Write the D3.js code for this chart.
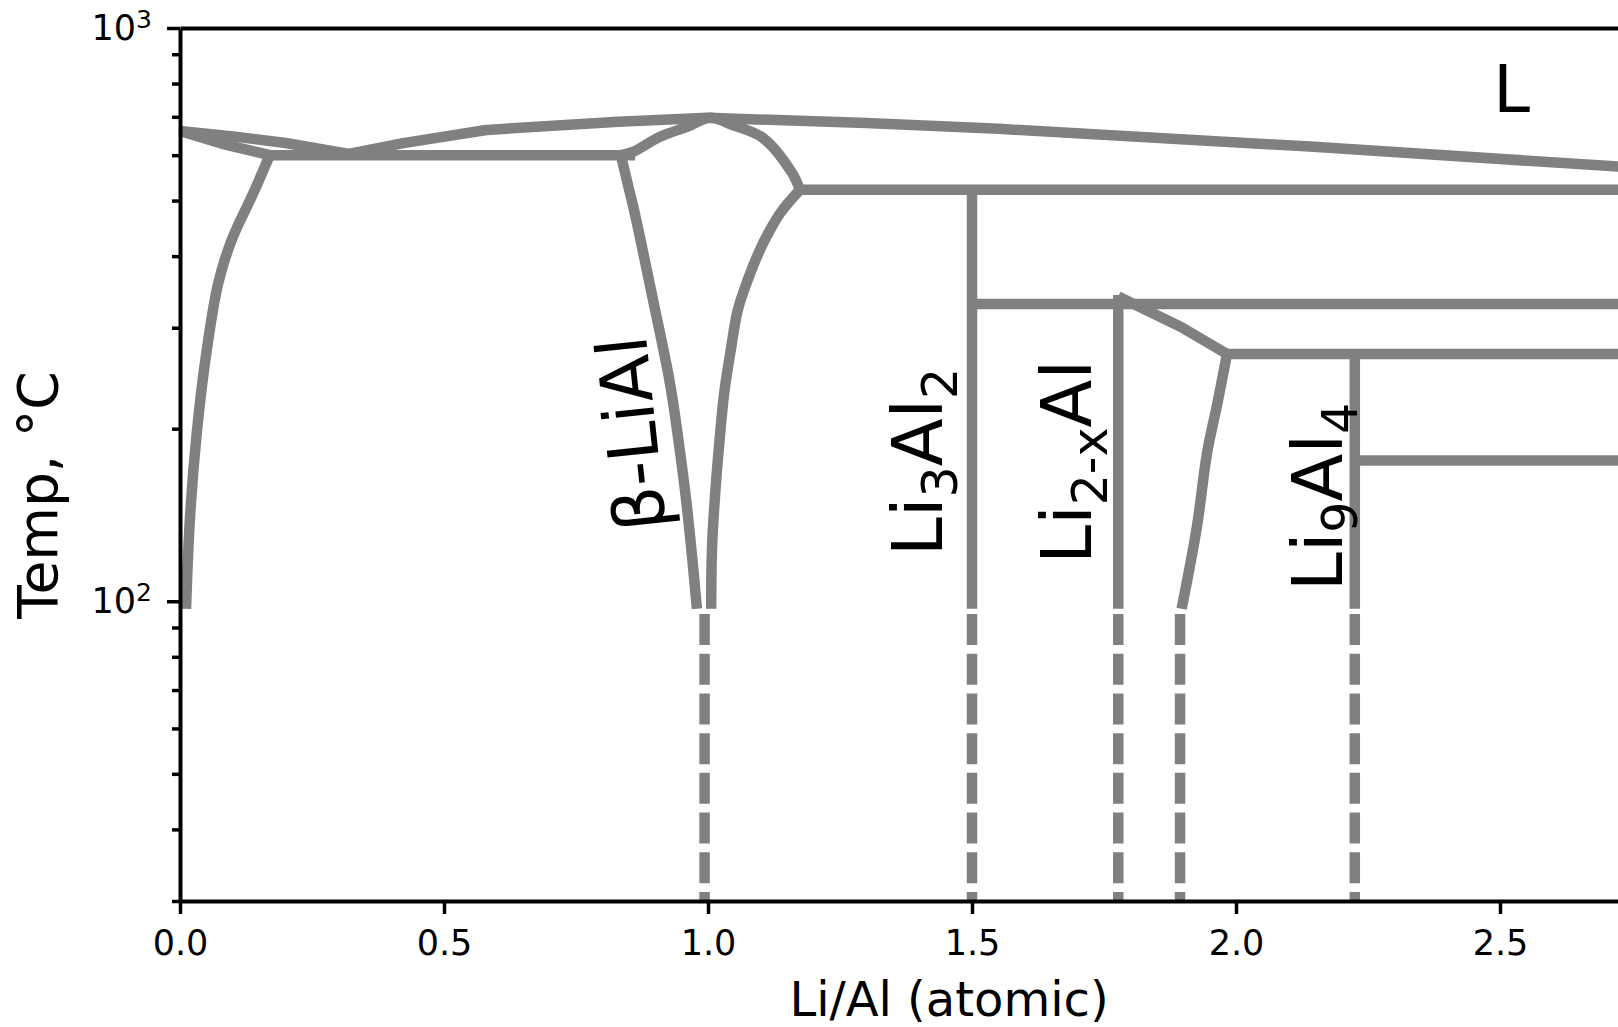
<!DOCTYPE html>
<html>
<head>
<meta charset="utf-8">
<script src="https://cdn.jsdelivr.net/npm/d3@7"></script>
<style>
  body { margin: 0; background: #fff; }
  svg { display: block; }
</style>
</head>
<body>
<svg id="chart" width="1618" height="1027"></svg>
<script>
// Li-Al phase diagram: Li/Al (atomic) vs temperature on a log axis
const svg = d3.select("#chart");
const font = "DejaVu Sans, Verdana, sans-serif";

const xMax = 2.75;
const xTicks = [0, 0.5, 1.0, 1.5, 2.0, 2.5];
const yMajorTicks = [100, 1000];
const yMinorTicks = [30, 40, 50, 60, 70, 80, 90, 200, 300, 400, 500, 600, 700, 800, 900];

// phase boundaries as [Li/Al, temp °C]
const alSolvus = [[0.0114, 97], [0.0189, 140], [0.0316, 196], [0.0506, 274], [0.0725, 359], [0.0979, 427], [0.1388, 515], [0.17, 600]];
const alSolidus = [[0, 661], [0.08, 628], [0.17, 600]];
const liquidus = [[0, 661], [0.1, 647], [0.2, 630], [0.32, 603], [0.42, 629], [0.58, 664], [0.83, 686], [1.0, 697], [1.3, 683], [1.55, 667], [2.14, 621], [2.75, 571]];
const eutectic600 = [[0.17, 600], [0.862, 600]];
const betaLeft = [[0.979, 97], [0.9697, 120], [0.9587, 150], [0.944, 191], [0.928, 240], [0.896, 335], [0.86, 481], [0.8485, 532], [0.835, 600]];
const betaDome = [[0.835, 600], [0.858, 608], [0.909, 646], [0.96, 672], [1.004, 697], [1.047, 677], [1.104, 643], [1.159, 559], [1.174, 522]];
const betaRight = [[1.174, 522], [1.1386, 478], [1.115, 440], [1.0956, 405], [1.076, 365], [1.0564, 322], [1.0428, 273], [1.031, 232], [1.0212, 188], [1.0134, 153], [1.0076, 124], [1.006, 97]];
const isotherm522 = [[1.174, 522], [2.75, 522]];
const li3al2Line = [[1.5, 522], [1.5, 97]];
const isotherm330 = [[1.5, 330], [2.75, 330]];
const li2xalLine = [[1.777, 342], [1.777, 97]];
const li2xalUpper = [[1.777, 340], [1.896, 301], [1.983, 270]];
const li2xalLower = [[1.983, 270], [1.965, 222], [1.945, 181], [1.926, 135], [1.897, 97]];
const isotherm270 = [[1.983, 270], [2.75, 270]];
const li9al4Line = [[2.225, 270], [2.225, 97]];
const isotherm176 = [[2.225, 176], [2.75, 176]];

const straightLines = [alSolidus, liquidus, eutectic600, isotherm522, li3al2Line, isotherm330,
  li2xalLine, li2xalUpper, isotherm270, li9al4Line, isotherm176];
const curvedLines = [alSolvus, betaLeft, betaDome, betaRight, li2xalLower];

// low-temperature extrapolations (dashed)
const dashedX = [0.9935, 1.5, 1.777, 1.894, 2.225];
const dashedTop = 95;
const dashedBottom = 30;

// phase labels: parts are [text, isSubscript]
const labels = [
  { parts: [["β-LiAl", false]], x: 0.9015, t: 198, angle: -96, size: 70 },
  { parts: [["Li", false], ["3", true], ["Al", false], ["2", true]], x: 1.4426, t: 175, angle: -90, size: 70 },
  { parts: [["Li", false], ["2-x", true], ["Al", false]], x: 1.7263, t: 175, angle: -90, size: 70 },
  { parts: [["Li", false], ["9", true], ["Al", false], ["4", true]], x: 2.2002, t: 152, angle: -90, size: 70 },
  { parts: [["L", false]], x: 2.522, t: 714, angle: 0, size: 66 }
];

const x = d3.scaleLinear().domain([0, xMax]).range([180, 180 + xMax * 528]);
const y = d3.scaleLog().domain([30, 1000]).range([901, 28]);

const line = d3.line().x(d => x(d[0])).y(d => y(d[1]));
const smoothLine = d3.line().x(d => x(d[0])).y(d => y(d[1])).curve(d3.curveCatmullRom.alpha(0.5));

// phase lines
const g = svg.append("g")
  .attr("fill", "none")
  .attr("stroke", "#808080")
  .attr("stroke-width", 10.5)
  .attr("stroke-linejoin", "round");

g.selectAll("path.straight")
  .data(straightLines)
  .join("path")
  .attr("class", "straight")
  .attr("d", line);

g.selectAll("path.curved")
  .data(curvedLines)
  .join("path")
  .attr("class", "curved")
  .attr("d", smoothLine);

g.selectAll("path.dash")
  .data(dashedX)
  .join("path")
  .attr("class", "dash")
  .attr("stroke-dasharray", "31,8.7")
  .attr("d", d => line([[d, dashedTop], [d, dashedBottom]]));

// labels
labels.forEach(l => {
  const t = svg.append("text")
    .attr("transform", `translate(${x(l.x)},${y(l.t)}) rotate(${l.angle})`)
    .attr("text-anchor", "middle")
    .attr("font-family", font)
    .attr("font-size", l.size)
    .attr("fill", "#000");
  let shifted = 0;
  l.parts.forEach(([txt, sub]) => {
    const target = sub ? l.size * 0.22 : 0;
    t.append("tspan")
      .attr("dy", target - shifted)
      .attr("font-size", sub ? l.size * 0.7 : l.size)
      .text(txt);
    shifted = target;
  });
});

// axes
const xAxis = svg.append("g")
  .attr("transform", `translate(0,${y(30)})`)
  .call(d3.axisBottom(x).tickValues(xTicks).tickFormat(d3.format(".1f"))
    .tickSize(13).tickSizeOuter(0).tickPadding(16));

const yMinor = svg.append("g")
  .attr("transform", `translate(${x(0)},0)`)
  .call(d3.axisLeft(y).tickValues(yMinorTicks).tickFormat("").tickSize(8).tickSizeOuter(0));
yMinor.select(".domain").remove();

const yAxis = svg.append("g")
  .attr("transform", `translate(${x(0)},0)`)
  .call(d3.axisLeft(y).tickValues(yMajorTicks).tickFormat(() => "")
    .tickSize(13).tickSizeOuter(0).tickPadding(15));

yAxis.selectAll(".tick text").each(function (d) {
  const t = d3.select(this);
  t.append("tspan").text("10");
  t.append("tspan").attr("dy", -12).attr("font-size", 25).text(Math.round(Math.log10(d)));
});

const topSpine = svg.append("g")
  .attr("transform", `translate(0,${y(1000)})`)
  .call(d3.axisTop(x).tickValues([]).tickSizeOuter(0));

[xAxis, yAxis, yMinor, topSpine].forEach(a => {
  a.attr("font-family", font).attr("font-size", 35);
  a.selectAll(".domain").attr("stroke", "#000").attr("stroke-width", 4);
  a.selectAll(".tick line").attr("stroke", "#000").attr("stroke-width", 3.5);
  a.selectAll(".tick text").attr("fill", "#000");
});

// axis titles
svg.append("text")
  .attr("x", 949)
  .attr("y", 1016)
  .attr("text-anchor", "middle")
  .attr("font-family", font)
  .attr("font-size", 48)
  .text("Li/Al (atomic)");

svg.append("text")
  .attr("transform", "translate(57,495) rotate(-90)")
  .attr("text-anchor", "middle")
  .attr("font-family", font)
  .attr("font-size", 55)
  .text("Temp, °C");
</script>
</body>
</html>
